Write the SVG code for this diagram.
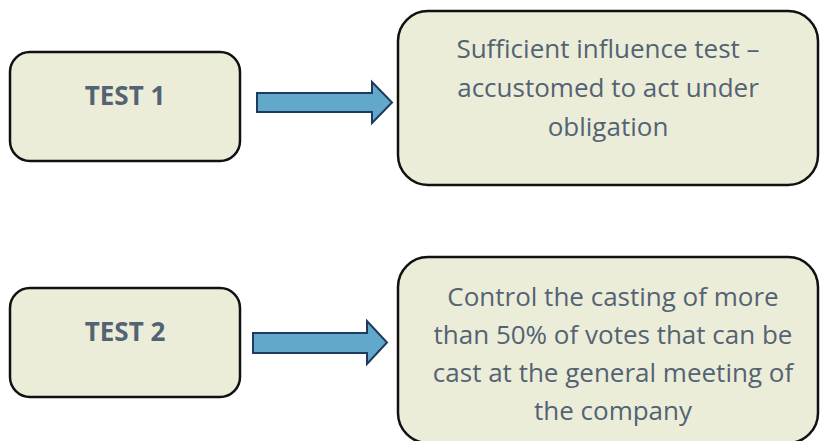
<svg xmlns="http://www.w3.org/2000/svg" width="820" height="441" viewBox="0 0 820 441">
<style>
.box{fill:#ECEDD9;stroke:#111;stroke-width:2.5}
.arrow{fill:#62A8CB;stroke:#1F3A5F;stroke-width:2;stroke-linejoin:miter}
.lbl{font-family:"Open Sans","DejaVu Sans",sans-serif;font-size:26px;fill:#536373;text-anchor:middle}
.bold{font-weight:bold}
</style>
<rect width="820" height="441" fill="#ffffff"/>
<g id="test1">
<rect class="box" x="10" y="52" width="230" height="109" rx="20"/>
<text class="lbl bold" x="125" y="105">TEST 1</text>
</g>
<g id="desc1">
<rect class="box" x="398" y="11" width="420" height="174" rx="30"/>
<text class="lbl" x="608" y="58">Sufficient influence test –</text>
<text class="lbl" x="608" y="97">accustomed to act under</text>
<text class="lbl" x="608" y="136">obligation</text>
</g>
<g id="test2">
<rect class="box" x="10" y="288" width="230" height="109" rx="20"/>
<text class="lbl bold" x="125" y="341">TEST 2</text>
</g>
<g id="desc2">
<rect class="box" x="398" y="257" width="420" height="186" rx="30"/>
<text class="lbl" x="613" y="306">Control the casting of more</text>
<text class="lbl" x="613" y="344">than 50% of votes that can be</text>
<text class="lbl" x="613" y="382">cast at the general meeting of</text>
<text class="lbl" x="613" y="420">the company</text>
</g>
<g id="connectors">
<path class="arrow" d="M257,93 L372,93 L372,82 L392,102.5 L372,123 L372,112 L257,112 Z"/>
<path class="arrow" d="M253,333 L367,333 L367,321 L387,342.5 L367,364 L367,353 L253,353 Z"/>
</g>
</svg>
